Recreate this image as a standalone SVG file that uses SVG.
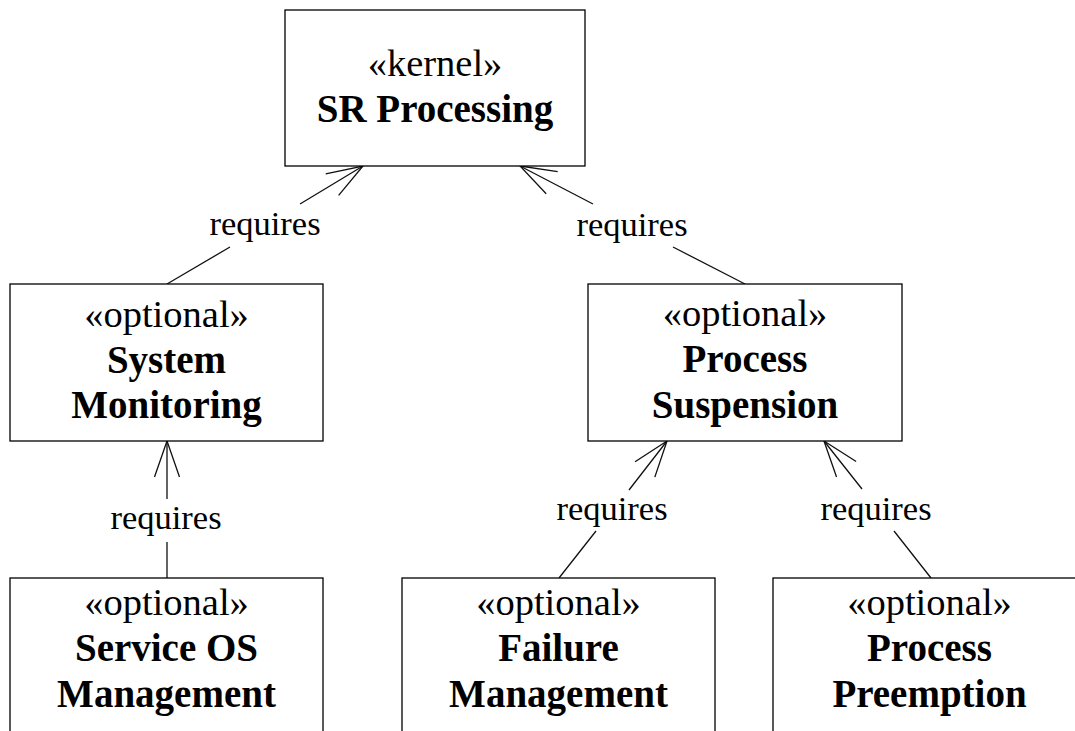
<svg xmlns="http://www.w3.org/2000/svg" width="1075" height="731" viewBox="0 0 1075 731">
<style>
.box{fill:#fff;stroke:#000;stroke-width:1.3}
.st{font-family:"Liberation Serif","Times New Roman",serif;font-size:38.5px;text-anchor:middle;fill:#000}
.nm{font-family:"Liberation Serif","Times New Roman",serif;font-size:39px;font-weight:bold;text-anchor:middle;fill:#000}
.lbl{font-family:"Liberation Serif","Times New Roman",serif;font-size:34.5px;text-anchor:middle;fill:#000}
.edge{fill:none;stroke:#111;stroke-width:1.3}
</style>
<defs>
<marker id="open" markerUnits="userSpaceOnUse" markerWidth="50" markerHeight="40" viewBox="-40 -20 50 40" refX="0" refY="0" orient="auto" overflow="visible">
<path d="M -36,-12.5 L 0,0 L -36,12.5" fill="none" stroke="#111" stroke-width="1.3"/>
</marker>
</defs>
<rect width="1075" height="731" fill="#fff"/>
<g id="connectors">
<path class="edge" d="M 167,284 L 230,247 M 300,204 L 363,166" marker-end="url(#open)"/>
<path class="edge" d="M 745,284 L 673,247 M 593,204 L 520,166" marker-end="url(#open)"/>
<path class="edge" d="M 167,578 L 167,542 M 167,499 L 167,441" marker-end="url(#open)"/>
<path class="edge" d="M 559,578 L 596,531 M 629,490 L 667,441" marker-end="url(#open)"/>
<path class="edge" d="M 931,578 L 894,531 M 862,489 L 824,441" marker-end="url(#open)"/>
<text class="lbl" x="265" y="235">requires</text>
<text class="lbl" x="632" y="236">requires</text>
<text class="lbl" x="166" y="529">requires</text>
<text class="lbl" x="612" y="520">requires</text>
<text class="lbl" x="876" y="520">requires</text>
</g>
<g id="sr-processing">
<rect class="box" x="285" y="10" width="300" height="156"/>
<text class="st" x="435" y="76">«kernel»</text>
<text class="nm" x="435" y="122">SR Processing</text>
</g>
<g id="system-monitoring">
<rect class="box" x="10" y="284" width="313" height="157"/>
<text class="st" x="166.5" y="327">«optional»</text>
<text class="nm" x="166.5" y="373">System</text>
<text class="nm" x="166.5" y="418">Monitoring</text>
</g>
<g id="process-suspension">
<rect class="box" x="588" y="284" width="314" height="157"/>
<text class="st" x="745" y="326">«optional»</text>
<text class="nm" x="745" y="372">Process</text>
<text class="nm" x="745" y="418">Suspension</text>
</g>
<g id="service-os-management">
<rect class="box" x="10" y="578" width="313" height="170"/>
<text class="st" x="166.5" y="615">«optional»</text>
<text class="nm" x="166.5" y="661">Service OS</text>
<text class="nm" x="166.5" y="707">Management</text>
</g>
<g id="failure-management">
<rect class="box" x="402" y="578" width="313" height="170"/>
<text class="st" x="558.5" y="615">«optional»</text>
<text class="nm" x="558.5" y="661">Failure</text>
<text class="nm" x="558.5" y="707">Management</text>
</g>
<g id="process-preemption">
<rect class="box" x="773" y="578" width="313" height="170"/>
<text class="st" x="929.5" y="615">«optional»</text>
<text class="nm" x="929.5" y="661">Process</text>
<text class="nm" x="929.5" y="707">Preemption</text>
</g>
</svg>
